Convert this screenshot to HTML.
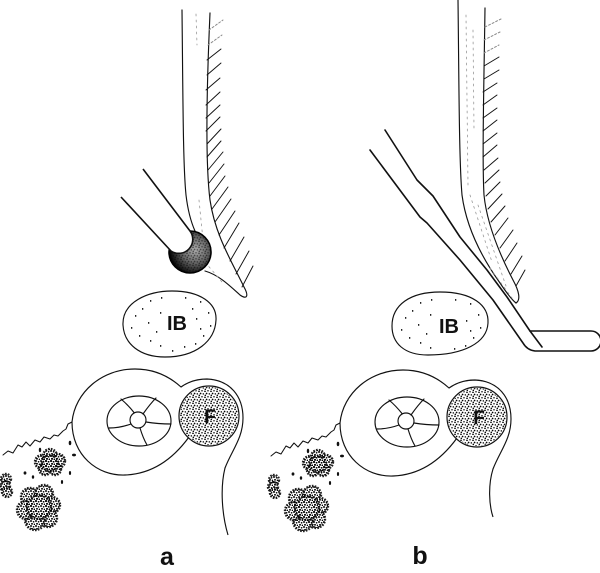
<!DOCTYPE html>
<html><head><meta charset="utf-8"><style>
html,body{margin:0;padding:0;background:#fff}
svg{display:block}
text{font-family:"Liberation Sans",sans-serif;font-weight:bold;fill:#111}
</style></head><body>
<svg width="600" height="573" viewBox="0 0 600 573" xmlns="http://www.w3.org/2000/svg">
<defs>
<pattern id="pf" width="6" height="6" patternUnits="userSpaceOnUse">
<circle cx="1" cy="1.3" r="0.85"/><circle cx="4" cy="0.8" r="0.75"/><circle cx="2.6" cy="3.5" r="0.85"/><circle cx="5.3" cy="3.9" r="0.75"/><circle cx="1.3" cy="5.3" r="0.8"/>
</pattern>
<pattern id="pd" width="5" height="5" patternUnits="userSpaceOnUse">
<circle cx="1" cy="1" r="0.95"/><circle cx="3.6" cy="1.8" r="0.85"/><circle cx="2" cy="3.8" r="0.95"/><circle cx="4.4" cy="4.3" r="0.75"/>
</pattern>
<radialGradient id="ball" cx="0.62" cy="0.45" r="0.62">
<stop offset="0" stop-color="#aaa"/><stop offset="0.5" stop-color="#666"/><stop offset="1" stop-color="#000"/>
</radialGradient>
</defs>
<rect width="600" height="573" fill="#fff"/>

<!-- ===== PANEL A ===== -->
<g fill="none" stroke="#111" stroke-width="1.15" stroke-linecap="round" stroke-linejoin="round">
  <path d="M182,10 C183,100 183,165 186,195 C188,212 191,222 195,231"/>
  <path d="M210,13 C207,80 205,160 210,200 C215,235 232,262 244,287 C249,296 247,300 240,295 C230,286 219,275 205,271"/>
  <path stroke="#888" stroke-width="1" stroke-dasharray="2 2" d="M209,30 l14,-10 M208,45 l14,-10"/>
  <path stroke-width="0.95" d="M207,60 l14,-11 M207,75 l14,-12 M206,90 l14,-12 M206,105 l14,-13 M206,118 l14,-13 M206,131 l14,-14 M207,144 l14,-15 M207,157 l14,-16 M208,170 l15,-18 M209,183 l15,-19 M210,196 l15,-20 M212,209 l16,-22 M215,222 l16,-23 M219,235 l16,-24 M224,248 l15,-25 M230,261 l14,-24 M236,274 l13,-23 M242,287 l11,-21"/>
  <path stroke="#999" stroke-width="0.8" stroke-dasharray="2 4" d="M196,14 L197,45 M199,200 L203,240 M205,262 L222,282"/>
  <path d="M123,325 C122,302 148,291 172,291 C200,291 217,303 216,320 C215,341 196,357 165,357 C140,357 124,344 123,325 Z"/>
</g>
<circle cx="190" cy="252" r="21" fill="url(#ball)" stroke="#000" stroke-width="1.6"/>
<circle cx="190" cy="252" r="20" fill="url(#pf)" opacity="0.5"/>
<path d="M143,169 L190,231 A14,14 0 0 1 171,251 L121,197" fill="#fff" stroke="#111" stroke-width="1.6" stroke-linejoin="round"/>

<g fill="#222">
<rect x="135" y="315" width="1.3" height="1.8"/><rect x="142" y="308" width="1.3" height="1.8"/><rect x="150" y="300" width="1.3" height="1.8"/><rect x="161" y="297" width="1.3" height="1.8"/><rect x="185" y="297" width="1.3" height="1.8"/><rect x="200" y="301" width="1.3" height="1.8"/><rect x="208" y="312" width="1.3" height="1.8"/><rect x="210" y="325" width="1.3" height="1.8"/><rect x="203" y="335" width="1.3" height="1.8"/><rect x="195" y="343" width="1.3" height="1.8"/><rect x="184" y="346" width="1.3" height="1.8"/><rect x="172" y="350" width="1.3" height="1.8"/><rect x="160" y="345" width="1.3" height="1.8"/><rect x="150" y="340" width="1.3" height="1.8"/><rect x="139" y="335" width="1.3" height="1.8"/><rect x="131" y="327" width="1.3" height="1.8"/><rect x="148" y="322" width="1.3" height="1.8"/><rect x="156" y="331" width="1.3" height="1.8"/><rect x="196" y="318" width="1.3" height="1.8"/><rect x="200" y="328" width="1.3" height="1.8"/><rect x="160" y="312" width="1.3" height="1.8"/><rect x="192" y="308" width="1.3" height="1.8"/>
</g>

<g id="botA">
<g fill="none" stroke="#111" stroke-width="1.15" stroke-linecap="round" stroke-linejoin="round">
  <path d="M72,422 C75,392 102,369 135,369 C155,369 170,377 181,387 C188,382 196,379 207,379 C230,380 243,396 243,418 C243,438 232,450 225,468"/>
  <path d="M72,422 C72,455 97,476 125,475 C152,474 173,459 189,437"/>
  <path stroke-width="1.05" d="M3,455 L8,451 L13,453 L18,445 L22,447 L26,442 L30,446 L35,440 L40,442 L44,437 L50,439 L54,435 L58,436 L63,431 L66,429 L68,424 L72,422"/>
  <ellipse cx="139" cy="421" rx="32" ry="25"/>
  <circle cx="138" cy="420" r="8"/>
  <path d="M134,412.5 Q128,405 121,399 M143,414 Q150,404 156,398 M146,422 Q158,424 171,424 M140,428 Q143,438 147,445 M131,424 Q120,428 109,428"/>
</g>
<circle cx="209" cy="416" r="30" fill="#fff" stroke="#111" stroke-width="1.2"/>
<circle cx="209" cy="416" r="29" fill="url(#pf)"/>
<g fill="#111">
<ellipse cx="40" cy="450" rx="1.2" ry="2.2"/><ellipse cx="70" cy="443" rx="1.3" ry="2.2"/><ellipse cx="74" cy="455" rx="2" ry="1.4"/><ellipse cx="70" cy="473" rx="1.1" ry="2"/><ellipse cx="62" cy="482" rx="1.1" ry="2"/><ellipse cx="25" cy="473" rx="1.4" ry="1.6"/><ellipse cx="33" cy="477" rx="1.2" ry="1.8"/>
</g>
<g fill="#fff" stroke="#222" stroke-width="2.4" stroke-dasharray="1.6 1.2">
<circle cx="30" cy="497" r="9"/><circle cx="44" cy="494" r="9"/><circle cx="52" cy="505" r="8"/><circle cx="48" cy="518" r="9"/><circle cx="35" cy="520" r="10"/><circle cx="26" cy="510" r="9"/><circle cx="39" cy="507" r="12"/>
<circle cx="42" cy="462" r="7"/><circle cx="50" cy="456" r="7"/><circle cx="58" cy="461" r="7"/><circle cx="55" cy="469" r="6"/><circle cx="45" cy="469" r="6"/><circle cx="50" cy="463" r="8"/>
<circle cx="6" cy="479" r="5"/><circle cx="5" cy="486" r="5"/><circle cx="7" cy="492" r="5"/>
</g>
<g fill="url(#pd)">
<circle cx="30" cy="497" r="9"/><circle cx="44" cy="494" r="9"/><circle cx="52" cy="505" r="8"/><circle cx="48" cy="518" r="9"/><circle cx="35" cy="520" r="10"/><circle cx="26" cy="510" r="9"/><circle cx="39" cy="507" r="12"/>
<circle cx="42" cy="462" r="7"/><circle cx="50" cy="456" r="7"/><circle cx="58" cy="461" r="7"/><circle cx="55" cy="469" r="6"/><circle cx="45" cy="469" r="6"/><circle cx="50" cy="463" r="8"/>
<circle cx="6" cy="479" r="5"/><circle cx="5" cy="486" r="5"/><circle cx="7" cy="492" r="5"/>
</g>
</g>
<path d="M225,468 C220,488 222,515 228,535" fill="none" stroke="#111" stroke-width="1.15"/>

<text x="177" y="330" font-size="20" text-anchor="middle">IB</text>
<text x="210" y="423" font-size="19" text-anchor="middle">F</text>
<text x="167" y="565" font-size="25" text-anchor="middle">a</text>

<!-- ===== PANEL B ===== -->
<g fill="none" stroke="#111" stroke-width="1.15" stroke-linecap="round" stroke-linejoin="round">
  <path d="M458,0 C459,80 459,160 462,195 C466,225 480,255 500,283 C506,292 511,299 516,303"/>
  <path d="M485,8 C484,80 482,160 484,195 C487,225 500,255 513,280 C519,291 521,300 516,303"/>
  <path stroke="#888" stroke-width="1" stroke-dasharray="2 2" d="M485,27 l16,-8 M484,40 l16,-8 M484,53 l15,-8"/>
  <path stroke-width="0.95" d="M484,66 l15,-9 M484,79 l15,-9 M483,92 l14,-9 M483,105 l14,-10 M483,118 l14,-10 M483,131 l14,-11 M483,144 l14,-11 M483,157 l14,-12 M484,170 l14,-12 M485,183 l14,-13 M486,196 l14,-14 M488,209 l14,-15 M491,222 l14,-16 M495,235 l13,-17 M500,248 l13,-18 M505,261 l12,-18 M511,274 l11,-18 M516,286 l9,-16"/>
  <path stroke="#999" stroke-width="0.8" stroke-dasharray="2 4" d="M466,15 L468,185 M473,30 L474,130 M470,195 L492,262 M478,205 L506,286 M490,268 L512,298"/>
  <path stroke-width="1.6" d="M385,130 L417,180 L433,196 L460,237 L487,270 L507,297 L530,331 L542,347"/>
  <path stroke-width="1.6" d="M530,331 L591,331 A10,10 0 0 1 591,351 L535,351 Q527,350 523,343 L493,300 L460,260 L427,223 L420,217 L370,150"/>
  <path d="M392,326 C392,305 410,292 440,292 C472,292 489,305 488,323 C487,343 463,355 428,355 C404,355 392,343 392,326 Z"/>
</g>
<g fill="#222" transform="translate(270,2)">
<rect x="135" y="315" width="1.3" height="1.8"/><rect x="142" y="308" width="1.3" height="1.8"/><rect x="150" y="300" width="1.3" height="1.8"/><rect x="161" y="297" width="1.3" height="1.8"/><rect x="185" y="297" width="1.3" height="1.8"/><rect x="200" y="301" width="1.3" height="1.8"/><rect x="208" y="312" width="1.3" height="1.8"/><rect x="210" y="325" width="1.3" height="1.8"/><rect x="203" y="335" width="1.3" height="1.8"/><rect x="195" y="343" width="1.3" height="1.8"/><rect x="184" y="346" width="1.3" height="1.8"/><rect x="160" y="345" width="1.3" height="1.8"/><rect x="150" y="340" width="1.3" height="1.8"/><rect x="139" y="335" width="1.3" height="1.8"/><rect x="131" y="327" width="1.3" height="1.8"/><rect x="148" y="322" width="1.3" height="1.8"/><rect x="156" y="331" width="1.3" height="1.8"/><rect x="196" y="318" width="1.3" height="1.8"/><rect x="200" y="328" width="1.3" height="1.8"/><rect x="160" y="312" width="1.3" height="1.8"/>
</g>

<use href="#botA" transform="translate(268,1)"/>
<path d="M493,469 C488,485 489,505 493,517" fill="none" stroke="#111" stroke-width="1.15"/>

<text x="449" y="333" font-size="20" text-anchor="middle">IB</text>
<text x="479" y="424" font-size="19" text-anchor="middle">F</text>
<text x="420" y="564" font-size="25" text-anchor="middle">b</text>
</svg>
</body></html>
